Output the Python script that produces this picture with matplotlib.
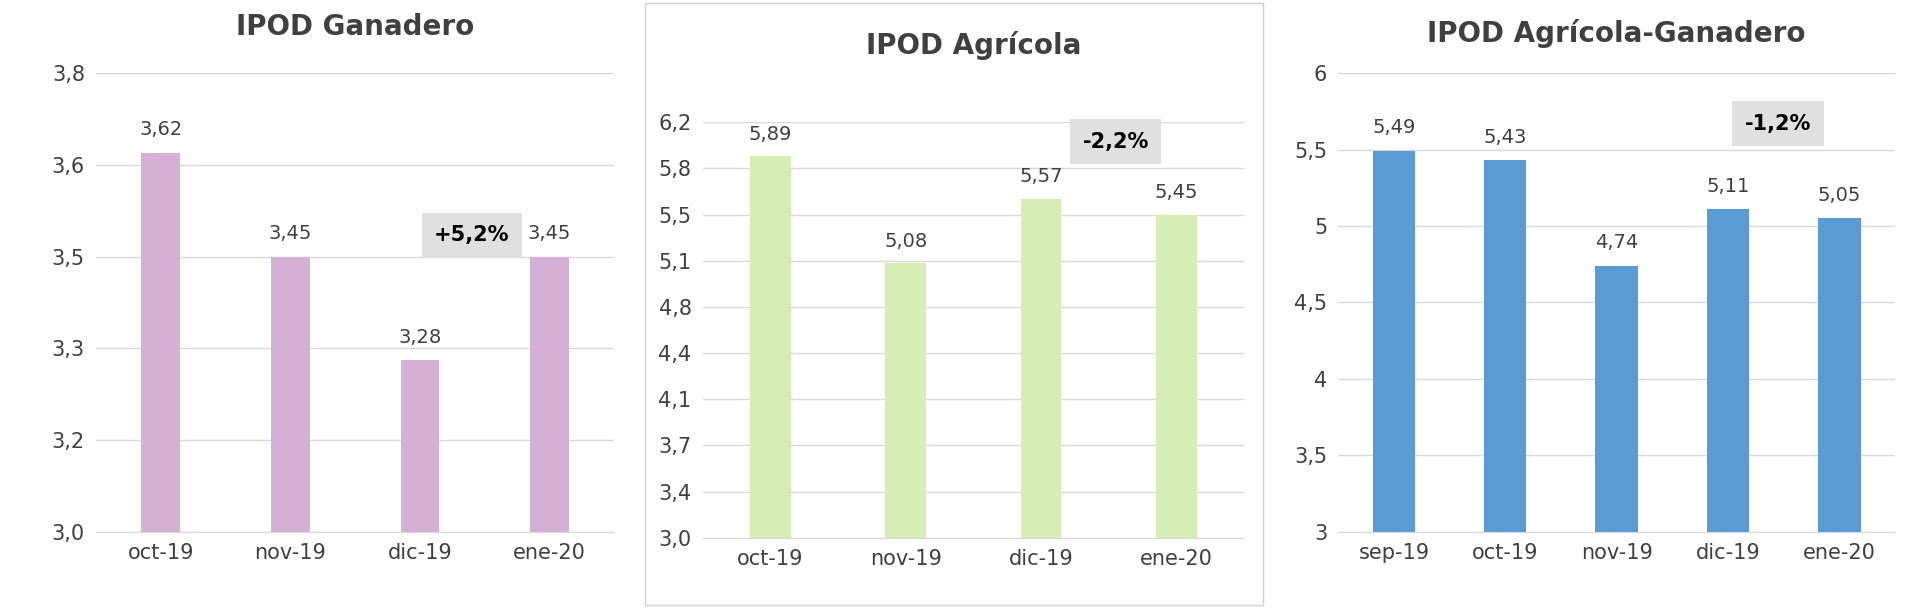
import matplotlib
matplotlib.use("Agg")
import matplotlib.pyplot as plt
from matplotlib.patches import Rectangle

cats1 = ["oct-19", "nov-19", "dic-19", "ene-20"]
vals1 = [3.62, 3.45, 3.28, 3.45]
ticks1 = [3.0, 3.15, 3.3, 3.45, 3.6, 3.75]
tlabels1 = ["3,0", "3,2", "3,3", "3,5", "3,6", "3,8"]

cats2 = ["oct-19", "nov-19", "dic-19", "ene-20"]
vals2 = [5.89, 5.08, 5.57, 5.45]
ticks2 = [3.0, 3.35, 3.7, 4.05, 4.4, 4.75, 5.1, 5.45, 5.8, 6.15]
tlabels2 = ["3,0", "3,4", "3,7", "4,1", "4,4", "4,8", "5,1", "5,5", "5,8", "6,2"]

cats3 = ["sep-19", "oct-19", "nov-19", "dic-19", "ene-20"]
vals3 = [5.49, 5.43, 4.74, 5.11, 5.05]
ticks3 = [3, 3.5, 4, 4.5, 5, 5.5, 6]
tlabels3 = ["3", "3,5", "4", "4,5", "5", "5,5", "6"]

fig = plt.figure(figsize=(19.2, 6.11), dpi=100)
fig.patches.append(Rectangle((0.336, 0.01), 0.322, 0.985, transform=fig.transFigure,
                             fill=False, edgecolor="#d0d0d0", lw=1))

def fmt(v):
    return f"{v:.2f}".replace(".", ",")

def panel(rect, cats, vals, ticks, tlabels, color, title, box, title_y, width):
    ax = fig.add_axes(rect)
    x = range(len(cats))
    ax.bar(x, vals, width=width, color=color, zorder=2)
    ax.set_ylim(ticks[0], ticks[-1])
    ax.set_yticks(ticks)
    ax.set_yticklabels(tlabels)
    ax.set_xticks(list(x))
    ax.set_xticklabels(cats)
    ax.set_xlim(-0.5, len(cats) - 0.5)
    ax.yaxis.grid(True, color="#d9d9d9", lw=1, zorder=0)
    for s in ["top", "right", "left"]:
        ax.spines[s].set_visible(False)
    ax.spines["bottom"].set_color("#d9d9d9")
    ax.tick_params(length=0, labelsize=15, colors="#404040", pad=8)
    rng = ticks[-1] - ticks[0]
    for xi, v in zip(x, vals):
        ax.text(xi, v + rng * 0.03, fmt(v), ha="center", va="bottom",
                fontsize=14, color="#404040")
    bx, by, bt = box
    ax.text(bx, by, bt, ha="center", va="center", fontsize=15, fontweight="bold",
            color="#000", bbox=dict(boxstyle="square,pad=0.6", fc="#e0e0e0", ec="none"), zorder=3)
    fig.text(rect[0] + rect[2] / 2, title_y, title, ha="center", va="center",
             fontsize=20, fontweight="bold", color="#404040")

panel([0.05, 0.13, 0.27, 0.75], cats1, vals1, ticks1, tlabels1, "#D5B0D6", "IPOD Ganadero",
      (2.4, 3.485, "+5,2%"), 0.955, 0.3)
panel([0.366, 0.12, 0.282, 0.68], cats2, vals2, ticks2, tlabels2, "#D6EDB5", "IPOD Agrícola",
      (2.55, 6.0, "-2,2%"), 0.925, 0.3)
panel([0.697, 0.13, 0.29, 0.75], cats3, vals3, ticks3, tlabels3, "#5B9BD5", "IPOD Agrícola-Ganadero",
      (3.45, 5.67, "-1,2%"), 0.945, 0.38)

fig.savefig("out.png", dpi=100, facecolor="white")
